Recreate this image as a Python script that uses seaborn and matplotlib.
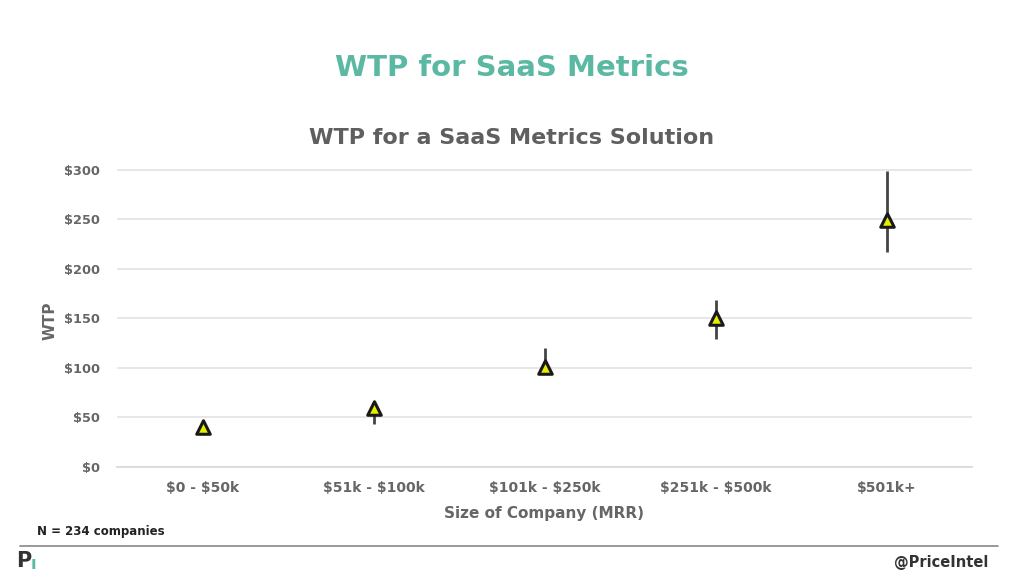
import numpy as np
import pandas as pd
import matplotlib
matplotlib.use("Agg")
import matplotlib.pyplot as plt
import seaborn as sns

# data
sizes = ["$0 - $50k", "$51k - $100k", "$101k - $250k", "$251k - $500k", "$501k+"]
wtp = [40, 60, 101, 150, 249]
wtp_low = [37, 43, 99, 129, 217]
wtp_high = [42, 62, 120, 169, 299]
y_ticks = [0, 50, 100, 150, 200, 250, 300]

sns.set_theme(style="whitegrid")
plt.rcParams['font.family'] = ['DejaVu Sans']
plt.rcParams['text.parse_math'] = False  # dollar signs are plain text

df = pd.DataFrame({"size": sizes, "wtp": wtp, "low": wtp_low, "high": wtp_high})

fig = plt.figure(figsize=(10.24, 5.76), dpi=100)
ax = fig.add_axes([117/1024, 1 - 467/576, 855/1024, 298/576])

gray = "#666666"

# error bars first so markers sit on top
ax.vlines(np.arange(len(df)), df["low"], df["high"], color="#444444", lw=2, zorder=2)
sns.scatterplot(data=df, x="size", y="wtp", marker="^", s=95, color="#e6ef00",
                edgecolor="#1a1a1a", linewidth=2.2, zorder=3, ax=ax, legend=False)

ax.set_xlim(-0.5, len(sizes) - 0.5)
ax.set_ylim(0, 300.8)
ax.set_yticks(y_ticks)
ax.set_yticklabels([f"${v}" for v in y_ticks])
ax.grid(axis="x", visible=False)
ax.grid(axis="y", color="#e3e3e3", lw=1.2)
for s in ["top", "right", "left"]:
    ax.spines[s].set_visible(False)
ax.spines["bottom"].set_color("#d9d9d9")
ax.tick_params(axis="y", length=0, pad=12, labelsize=9.3, colors=gray)
ax.tick_params(axis="x", length=0, pad=10, labelsize=10, colors=gray)
for lab in ax.get_xticklabels() + ax.get_yticklabels():
    lab.set_fontweight("bold")
ax.set_xlabel("Size of Company (MRR)", fontsize=11, fontweight="bold", color=gray, labelpad=8)
ax.set_ylabel("WTP", fontsize=11, fontweight="bold", color=gray)
ax.yaxis.set_label_coords(-0.07, 0.49)

# titles
fig.text(0.5, 1 - 68/576, "WTP for SaaS Metrics", ha="center", va="center",
         fontsize=21, fontweight="bold", color="#5bb9a3")
fig.text(0.5, 1 - 138/576, "WTP for a SaaS Metrics Solution", ha="center", va="center",
         fontsize=16, fontweight="bold", color="#5f5f5f")

# footer
fig.text(37/1024, 1 - 532/576, "N = 234 companies", ha="left", va="center",
         fontsize=8.5, fontweight="bold", color="#222222")
fig.add_artist(plt.Line2D([20/1024, 998/1024], [1 - 546/576, 1 - 546/576],
                          color="#888888", lw=1.2))
fig.text(16/1024, 1 - 561/576, "P", ha="left", va="center",
         fontsize=15, fontweight="bold", color="#333333")
fig.text(31/1024, 1 - 564/576, "ı", ha="left", va="center",
         fontsize=12, fontweight="bold", color="#5bb9a3")
fig.text(988/1024, 1 - 563/576, "@PriceIntel", ha="right", va="center",
         fontsize=10.5, fontweight="bold", color="#333333")

fig.savefig("out.png", dpi=100)
